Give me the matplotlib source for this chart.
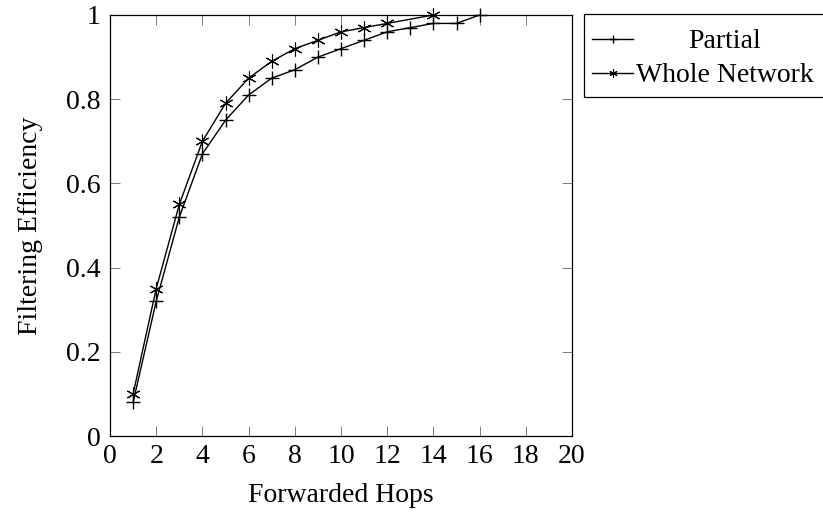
import matplotlib
matplotlib.use("Agg")
import matplotlib.pyplot as plt
from matplotlib.lines import Line2D
from matplotlib.patches import Rectangle

plt.rcParams['font.family'] = ['Liberation Serif', 'DejaVu Serif']

partial_x = [1, 2, 3, 4, 5, 6, 7, 8, 9, 10, 11, 12, 13, 14, 15, 16]
partial_y = [0.08, 0.32, 0.52, 0.67, 0.75, 0.81, 0.85, 0.87, 0.90, 0.92, 0.94, 0.96, 0.97, 0.98, 0.98, 1.0]
whole_x = [1, 2, 3, 4, 5, 6, 7, 8, 9, 10, 11, 12, 14]
whole_y = [0.10, 0.35, 0.55, 0.70, 0.79, 0.85, 0.89, 0.92, 0.94, 0.96, 0.97, 0.98, 1.0]

x_ticks = [0, 2, 4, 6, 8, 10, 12, 14, 16, 18, 20]
y_ticks = [0, 0.2, 0.4, 0.6, 0.8, 1.0]
y_labels = ["0", "0.2", "0.4", "0.6", "0.8", "1"]
series_labels = ["Partial", "Whole Network"]

W, H = 823, 518
FS = 20

fig = plt.figure(figsize=(W / 100, H / 100), dpi=100)
ax = fig.add_axes([110 / W, 82 / H, 462 / W, 421 / H])

pm = dict(marker='+', ms=10, mew=1.0)
wm = dict(marker=(6, 2, 0), ms=10, mew=0.8)
ax.plot(partial_x, partial_y, color='black', lw=1.0, clip_on=False, **pm)
ax.plot(whole_x, whole_y, color='black', lw=1.0, clip_on=False, **wm)

ax.set_xlim(0, 20)
ax.set_ylim(0, 1)
ax.set_xticks(x_ticks)
ax.set_xticklabels([str(t) for t in x_ticks])
ax.set_yticks(y_ticks)
ax.set_yticklabels(y_labels)
ax.tick_params(direction='in', top=True, right=True, length=7, width=0.6,
               color='#666666', labelsize=FS)
ax.tick_params(axis='x', pad=6)
ax.tick_params(axis='y', pad=7)
for s in ax.spines.values():
    s.set_linewidth(0.9)

ax.set_xlabel('Forwarded Hops', fontsize=FS, labelpad=10)
ax.set_ylabel('Filtering Efficiency', fontsize=FS, labelpad=16)

# legend drawn manually (pgfplots style, text centred)
def fx(p):
    return p / W

def fy(p):
    return 1 - p / H

fig.add_artist(Rectangle((fx(584), fy(97)), fx(250), (97 - 13.5) / H,
                         transform=fig.transFigure, fill=False,
                         edgecolor='black', lw=0.9))
rows = [(39, pm, series_labels[0]), (73, wm, series_labels[1])]
for yp, mk, lab in rows:
    kw = dict(mk)
    kw['ms'] = kw['ms'] * 0.6
    fig.add_artist(Line2D([fx(592), fx(633)], [fy(yp), fy(yp)],
                          transform=fig.transFigure, color='black', lw=1.0))
    fig.add_artist(Line2D([fx(612.5)], [fy(yp)], transform=fig.transFigure,
                          color='black', lw=0, **kw))
    fig.text(fx(725), fy(yp + 2), lab, fontsize=FS, ha='center', va='center')

fig.savefig('out.png', dpi=100)
